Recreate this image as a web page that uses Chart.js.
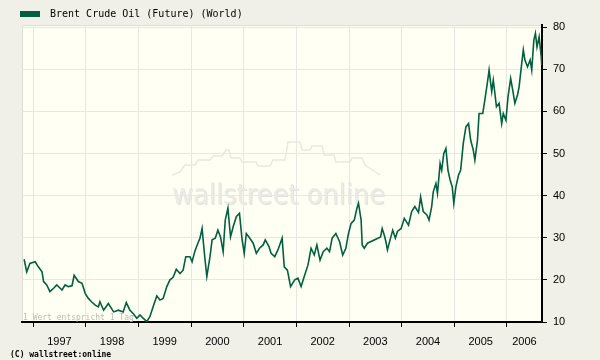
<!DOCTYPE html>
<html>
<head>
<meta charset="utf-8">
<script src="https://cdn.jsdelivr.net/npm/chart.js@4.4.1/dist/chart.umd.min.js"></script>
<style>
  html, body { margin: 0; padding: 0; background: #F0F0E8; }
  #wrap { width: 600px; height: 360px; }
</style>
</head>
<body>
<div id="wrap"><canvas id="c" width="600" height="360"></canvas></div>
<script>
const seriesName = 'Brent Crude Oil (Future) (World)';
const footnote = '1 Wert entspricht 1 Tag';
const copyright = '(C) wallstreet:online';
const watermark = 'wallstreet online';

const dates = [
  1996.83, 1996.88, 1996.94,
  1997.04, 1997.10, 1997.17, 1997.20, 1997.26, 1997.32, 1997.39, 1997.45, 1997.55, 1997.61, 1997.67, 1997.74, 1997.78, 1997.86, 1997.93, 1997.99,
  1998.05, 1998.11, 1998.18, 1998.24, 1998.27, 1998.34, 1998.43, 1998.53, 1998.62, 1998.71, 1998.77, 1998.84, 1998.90, 1998.97,
  1999.03, 1999.09, 1999.16, 1999.22, 1999.28, 1999.35, 1999.41, 1999.47, 1999.54, 1999.60, 1999.66, 1999.72, 1999.79, 1999.85, 1999.90, 1999.98,
  2000.02, 2000.07, 2000.13, 2000.17, 2000.21, 2000.26, 2000.30, 2000.36, 2000.40, 2000.46, 2000.51, 2000.56, 2000.61, 2000.65, 2000.70, 2000.75, 2000.80, 2000.86, 2000.92, 2000.97,
  2001.01, 2001.05, 2001.11, 2001.18, 2001.24, 2001.30, 2001.37, 2001.41, 2001.48, 2001.52, 2001.59, 2001.65, 2001.73, 2001.77, 2001.83, 2001.89, 2001.97,
  2002.03, 2002.09, 2002.15, 2002.22, 2002.28, 2002.34, 2002.39, 2002.45, 2002.51, 2002.58, 2002.63, 2002.68, 2002.75, 2002.82, 2002.88, 2002.94, 2002.99,
  2003.04, 2003.10, 2003.15, 2003.18, 2003.23, 2003.25, 2003.29, 2003.35, 2003.60, 2003.63, 2003.67, 2003.70, 2003.73, 2003.78, 2003.83, 2003.88, 2003.92, 2003.99,
  2004.05, 2004.13, 2004.19, 2004.25, 2004.32, 2004.36, 2004.41, 2004.48, 2004.52, 2004.57, 2004.60, 2004.65, 2004.68, 2004.73, 2004.76, 2004.80, 2004.84, 2004.88, 2004.92, 2004.96, 2004.99,
  2005.03, 2005.08, 2005.12, 2005.17, 2005.22, 2005.27, 2005.31, 2005.36, 2005.39, 2005.44, 2005.47, 2005.54, 2005.58, 2005.63, 2005.66, 2005.71, 2005.74, 2005.77, 2005.80, 2005.85, 2005.90, 2005.93, 2005.98,
  2006.02, 2006.07, 2006.11, 2006.15, 2006.20, 2006.23, 2006.28, 2006.31, 2006.34, 2006.39, 2006.44, 2006.47, 2006.51, 2006.54, 2006.57, 2006.61, 2006.65, 2006.66
];
const prices = [
  24.9, 21.9, 23.9,
  24.3, 23.1, 21.9, 19.6, 18.8, 17.2, 18.0, 18.8, 17.6, 18.8, 18.4, 18.6, 21.1, 19.6, 19.2, 16.8,
  15.6, 14.8, 14.0, 13.6, 14.8, 12.8, 14.4, 12.4, 12.8, 12.4, 14.6, 12.8, 12.0, 10.9,
  11.7, 10.9, 10.1, 11.3, 13.6, 16.2, 15.2, 15.6, 18.4, 20.0, 20.6, 22.5, 21.5, 22.3, 25.5, 25.5,
  24.3, 26.7, 28.7, 29.9, 32.2, 25.5, 20.8, 25.5, 29.5, 29.9, 31.8, 30.2, 26.7, 34.2, 37.0, 30.2, 32.6, 35.0, 35.8, 29.5,
  26.3, 31.0, 30.0, 28.7, 26.3, 27.5, 28.3, 29.5, 27.9, 26.3, 25.5, 27.1, 29.9, 23.1, 22.3, 18.4, 20.0,
  20.4, 18.4, 20.8, 23.5, 27.5, 25.9, 28.3, 24.7, 26.7, 27.5, 26.7, 29.9, 31.0, 29.1, 25.9, 27.5, 31.0,
  33.4, 34.2, 37.0, 38.2, 34.2, 28.3, 27.5, 28.7, 30.2, 32.2, 30.6, 29.1, 27.1, 29.5, 31.8, 29.9, 31.5, 32.2,
  34.6, 33.0, 36.2, 37.4, 36.0, 39.7, 36.2, 35.4, 34.2, 37.4, 40.9, 42.9, 40.5, 47.6, 46.0, 50.0, 51.2, 46.0, 43.7, 42.1, 38.2,
  42.1, 44.9, 46.0, 52.4, 56.3, 57.1, 53.2, 50.8, 48.4, 53.2, 59.5, 59.5, 62.7, 67.0, 69.8, 64.7, 67.4, 64.3, 61.1, 61.9, 57.1, 59.5, 57.9,
  63.5, 67.8, 65.0, 61.9, 63.9, 65.8, 71.4, 74.6, 72.2, 70.6, 72.2, 69.8, 76.9, 78.5, 75.3, 77.7, 73.0, 71.0
];
const yearTicks = [1997, 1998, 1999, 2000, 2001, 2002, 2003, 2004, 2005, 2006];
const priceTicks = [10, 20, 30, 40, 50, 60, 70, 80];

const X_MIN = 1996.79, X_MAX = 2006.665;
const Y_MIN = 10, Y_MAX = 80.5;

const LINE = '#00603F';
const PAGE_BG = '#F0F0E8';
const PLOT_BG = '#FFFFF3';
const GRID = '#E8E8E2';

// label positions: centre of each visible year span
const yearLabelPos = yearTicks.map((y, i) => {
  const start = Math.max(y, X_MIN);
  const end = Math.min(i + 1 < yearTicks.length ? yearTicks[i + 1] : y + 1, X_MAX);
  return (start + end) / 2;
});

const decor = {
  id: 'decor',
  beforeDraw(chart) {
    const { ctx, chartArea: a } = chart;
    ctx.save();
    ctx.fillStyle = PAGE_BG;
    ctx.fillRect(0, 0, chart.width, chart.height);
    ctx.fillStyle = PLOT_BG;
    ctx.fillRect(a.left, a.top, a.right - a.left, a.bottom - a.top);
    ctx.strokeStyle = '#DDDDD6';
    ctx.lineWidth = 1;
    ctx.beginPath();
    ctx.moveTo(a.left + 0.5, a.bottom);
    ctx.lineTo(a.left + 0.5, a.top + 0.5);
    ctx.lineTo(a.right, a.top + 0.5);
    ctx.stroke();

    // watermark (decorative)
    const cx = a.left + 256.5;
    const base = a.top + 179;
    ctx.strokeStyle = '#E9E9E3';
    ctx.lineWidth = 1.5;
    ctx.beginPath();
    const sky = [[172,175],[180,172],[185,165],[195,165],[198,160],[210,160],[213,156],[222,156],[226,150],[229,150],[231,158],[240,158],[242,162],[256,162],[258,166],[270,166],[273,160],[285,160],[288,142],[300,142],[302,150],[310,150],[312,146],[322,146],[324,155],[334,155],[336,162],[350,162],[352,158],[362,158],[365,165],[380,175]];
    sky.forEach((p, i) => {
      const px = cx + (p[0] - 278.5), py = base + (p[1] - 204);
      i ? ctx.lineTo(px, py) : ctx.moveTo(px, py);
    });
    ctx.stroke();

    ctx.font = '28px "DejaVu Sans Condensed", "Liberation Sans Narrow", "Liberation Sans", sans-serif';
    const w = ctx.measureText(watermark).width;
    const target = 213;
    ctx.translate(cx, base);
    ctx.scale(target / w, 1);
    ctx.textAlign = 'center';
    ctx.textBaseline = 'alphabetic';
    ctx.fillStyle = '#E3E3DD';
    ctx.fillText(watermark, 1, 1);
    ctx.fillStyle = '#ECECE6';
    ctx.fillText(watermark, 0, 0);
    ctx.restore();
  },
  beforeDatasetsDraw(chart) {
    const { ctx, chartArea: a } = chart;
    ctx.save();
    ctx.font = '8px "DejaVu Sans Mono", monospace';
    ctx.fillStyle = '#BDBDB8';
    ctx.textBaseline = 'middle';
    ctx.textAlign = 'left';
    ctx.fillText(footnote, a.left + 1, a.bottom - 4);
    ctx.restore();
  },
  afterDraw(chart) {
    const { ctx } = chart;
    ctx.save();
    ctx.fillStyle = LINE;
    ctx.fillRect(20, 11, 20, 6);
    ctx.fillStyle = '#000';
    ctx.font = '10px "DejaVu Sans Mono", monospace';
    ctx.textBaseline = 'middle';
    ctx.textAlign = 'left';
    ctx.fillText(seriesName, 50, 14.5);
    ctx.font = 'bold 8px "DejaVu Sans Mono", monospace';
    ctx.fillText(copyright, 10, 354.5);
    ctx.restore();
  }
};

new Chart(document.getElementById('c'), {
  type: 'line',
  data: {
    datasets: [{
      label: seriesName,
      data: dates.map((d, i) => ({ x: d, y: prices[i] })),
      borderColor: LINE,
      backgroundColor: LINE,
      borderWidth: 1.6,
      pointRadius: 0,
      tension: 0,
      fill: false,
      xAxisID: 'x',
      yAxisID: 'y'
    }]
  },
  options: {
    responsive: false,
    animation: false,
    events: [],
    layout: { padding: { top: 25, left: 22, right: 0, bottom: 0 } },
    plugins: { legend: { display: false }, tooltip: { enabled: false }, title: { display: false } },
    scales: {
      x: {
        type: 'linear',
        position: 'bottom',
        weight: 0,
        min: X_MIN, max: X_MAX,
        afterBuildTicks(s) { s.ticks = yearTicks.map(v => ({ value: v })); },
        afterFit(s) { s.height = 6; },
        grid: { display: true, color: GRID, lineWidth: 1, drawTicks: true, tickLength: 5, tickColor: '#000', tickWidth: 1 },
        border: { display: true, color: '#000', width: 2 },
        ticks: { display: false }
      },
      xl: {
        type: 'linear',
        position: 'bottom',
        weight: 1,
        min: X_MIN, max: X_MAX,
        afterBuildTicks(s) { s.ticks = yearLabelPos.map(v => ({ value: v })); },
        afterFit(s) { s.height = 32; },
        grid: { display: false, drawTicks: false },
        border: { display: false },
        ticks: {
          autoSkip: false, maxRotation: 0, minRotation: 0,
          padding: 7,
          color: '#000',
          font: { family: '"Liberation Sans", Arial, sans-serif', size: 11 },
          callback: (v) => String(Math.floor(v))
        }
      },
      y: {
        type: 'linear',
        position: 'right',
        min: Y_MIN, max: Y_MAX,
        afterBuildTicks(s) { s.ticks = priceTicks.map(v => ({ value: v })); },
        afterFit(s) { s.width = 58; },
        grid: { display: true, color: GRID, lineWidth: 1, drawTicks: true, tickLength: 5, tickColor: '#000', tickWidth: 1 },
        border: { display: true, color: '#000', width: 2 },
        ticks: {
          padding: 6,
          color: '#000',
          font: { family: '"Liberation Sans", Arial, sans-serif', size: 11 },
          callback: (v) => String(v)
        }
      }
    }
  },
  plugins: [decor]
});
</script>
</body>
</html>
